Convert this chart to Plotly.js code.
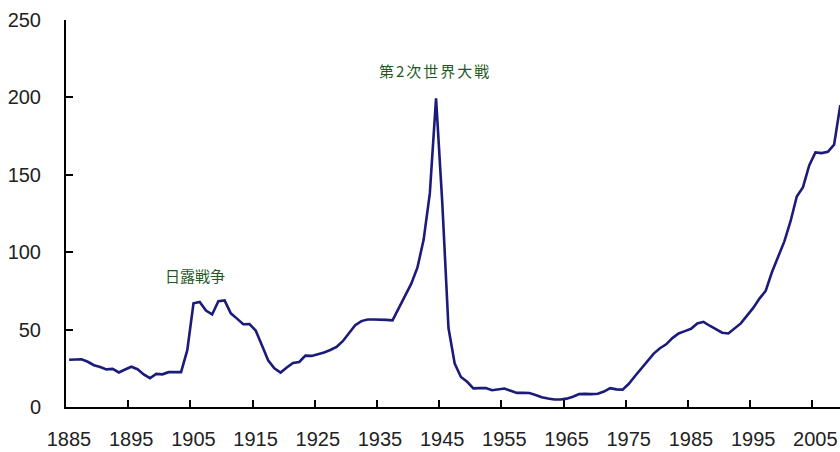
<!DOCTYPE html>
<html>
<head>
<meta charset="utf-8">
<script src="https://cdn.plot.ly/plotly-3.0.1.min.js"></script>
<style>
html,body{margin:0;padding:0;background:#ffffff;}
#chart{width:840px;height:452px;}
</style>
</head>
<body>
<div id="chart"></div>
<script>
// Government debt ratio (%), annual, 1885 onward
const startYear = 1885;
const ratio = [
  30.5, 30.8, 30.8, 29.2, 27.0, 25.8, 24.3, 24.6, 22.3, 24.2,   // 1885-1894
  26.0, 24.4, 21.0, 18.6, 21.4, 21.1, 22.5, 22.5, 22.5, 36.7,   // 1895-1904
  67.0, 67.9, 62.3, 59.8, 68.3, 68.8, 60.5, 57.1, 53.5, 53.6,   // 1905-1914
  49.4, 39.9, 30.2, 25.0, 22.2, 25.5, 28.4, 29.1, 33.2, 33.0,   // 1915-1924
  34.0, 35.2, 36.8, 38.8, 42.5, 48.0, 52.8, 55.5, 56.5, 56.5,   // 1925-1934
  56.5, 56.3, 56.0, 64.0, 71.5, 79.5, 90.0, 108.0, 138.0, 199.4, // 1935-1944
  132.0, 51.0, 28.0, 19.4, 16.3, 12.0, 12.2, 12.3, 10.8, 11.3,  // 1945-1954
  11.9, 10.5, 9.1, 9.1, 9.0, 7.8, 6.3, 5.5, 4.8, 4.8,           // 1955-1964
  5.4, 6.6, 8.3, 8.5, 8.3, 8.6, 10.0, 12.2, 11.4, 11.2,         // 1965-1974
  15.0, 20.0, 25.0, 30.2, 34.5, 38.0, 40.5, 44.5, 47.5, 49.0,   // 1975-1984
  50.5, 54.0, 55.0, 52.5, 50.0, 48.0, 47.5, 50.5, 54.0, 59.0,   // 1985-1994
  64.0, 70.0, 75.0, 87.0, 97.0, 107.0, 120.0, 136.0, 142.0, 156.0, // 1995-2004
  164.5, 164.0, 164.8, 169.5, 195.0                             // 2005-2009
];
const years = ratio.map((_, i) => startYear + i);

const tickLabels = ['1885','1895','1905','1915','1925','1935','1945','1955','1965','1975','1985','1995','2005'];
const tickBoundaries = tickLabels.map(t => Number(t) - 0.5);
const yTicks = [0, 50, 100, 150, 200, 250];

const noteTexts = ['日露戦争', '第2次世界大戦'];
const noteYears = [1905.3, 1943.9];
const noteValues = [85, 217.5];

const lineColor = '#1b1b7a';
const noteColor = '#1f5a1f';

const trace = {
  x: years, y: ratio, type: 'scatter', mode: 'lines',
  line: {color: lineColor, width: 2.6},
  hoverinfo: 'skip', showlegend: false
};

const layout = {
  width: 840, height: 452,
  margin: {l: 66, r: 0, t: 20, b: 45, pad: 0},
  paper_bgcolor: '#ffffff', plot_bgcolor: '#ffffff',
  showlegend: false,
  font: {family: 'Liberation Sans, Arial, sans-serif', size: 20, color: '#222222'},
  xaxis: {
    range: [startYear - 0.5, 2008.95],
    tickmode: 'array', tickvals: tickBoundaries, ticktext: tickLabels,
    ticklabelshift: 3, ticklabelstandoff: 13,
    ticks: 'inside', ticklen: 7, tickwidth: 2, tickcolor: '#000000',
    showline: true, linecolor: '#000000', linewidth: 2,
    showgrid: false, zeroline: false, fixedrange: true,
    tickfont: {family: 'Liberation Sans, Arial, sans-serif', size: 20, color: '#222222'}
  },
  yaxis: {
    range: [0, 250],
    tickmode: 'array', tickvals: yTicks, ticktext: yTicks.map(String),
    ticks: 'inside', ticklen: 7, tickwidth: 2, tickcolor: '#000000',
    ticklabelstandoff: 19,
    showline: true, linecolor: '#000000', linewidth: 2,
    showgrid: false, zeroline: false, fixedrange: true,
    tickfont: {family: 'Liberation Sans, Arial, sans-serif', size: 20, color: '#222222'}
  },
  annotations: [
    {x: noteYears[0], y: noteValues[0], xref: 'x', yref: 'y', text: noteTexts[0], showarrow: false,
     font: {family: 'Noto Sans CJK JP, sans-serif', size: 15, color: noteColor}},
    {x: noteYears[1], y: noteValues[1], xref: 'x', yref: 'y',
     text: '<span style="letter-spacing:2px">' + noteTexts[1] + '</span>', showarrow: false,
     font: {family: 'Noto Sans CJK JP, sans-serif', size: 15, color: noteColor}}
  ]
};

Plotly.newPlot('chart', [trace], layout, {displayModeBar: false, staticPlot: true});
</script>
</body>
</html>
